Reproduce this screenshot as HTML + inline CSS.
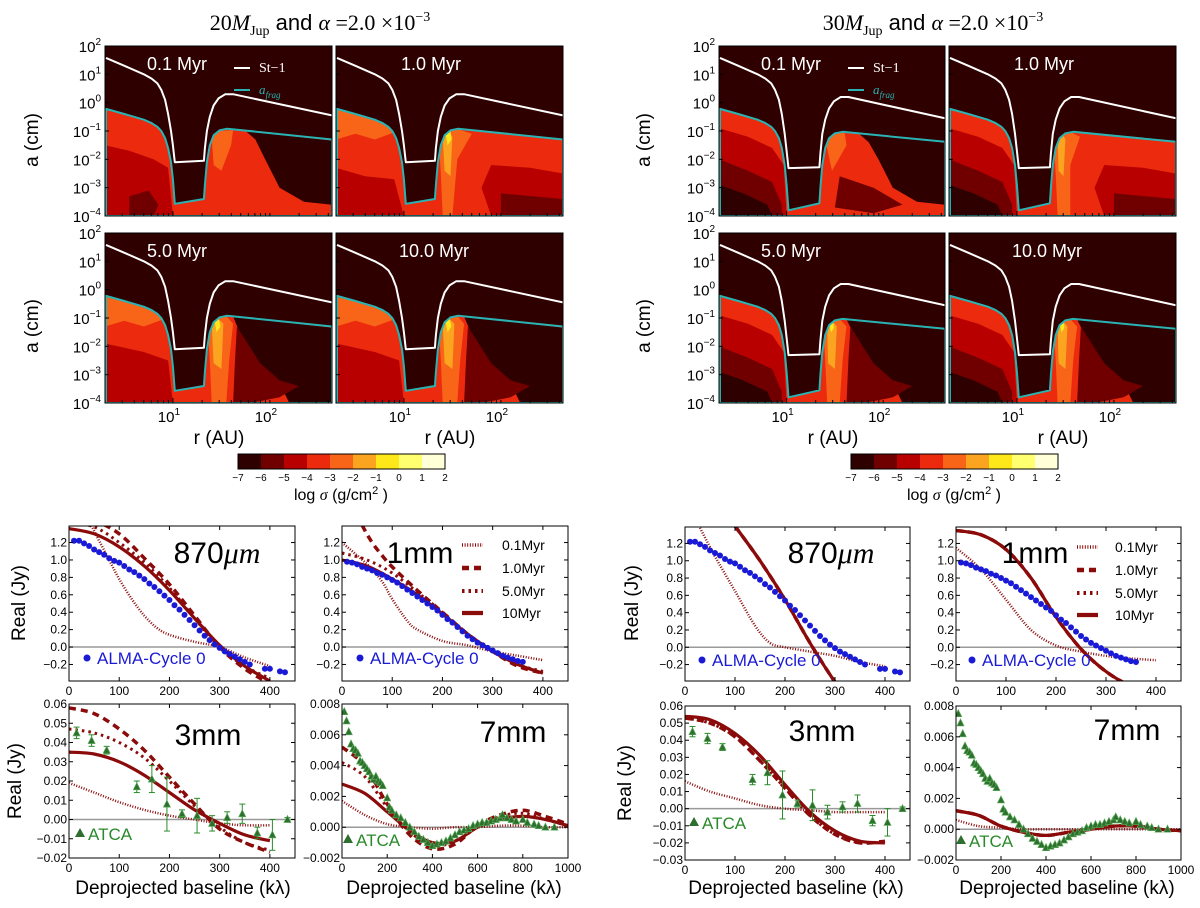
<!DOCTYPE html>
<html><head><meta charset="utf-8">
<style>
html,body{margin:0;padding:0;background:#fff;}
svg{display:block;font-family:"Liberation Sans",sans-serif;}
</style></head>
<body>
<svg id="fig" width="1200" height="908" viewBox="0 0 1200 908" xmlns="http://www.w3.org/2000/svg"></svg>
<script>
// ---------- heatmap curve data (log10 r [AU], log10 a [cm]) ----------
const stL_r=[0.31,0.50,0.70,0.78,0.84,0.88,0.92,0.95,0.98,1.00,1.02,1.32,1.33,1.35,1.38,1.42,1.47,1.54,1.62,2.64];
const stL_a=[1.58,1.30,1.00,0.85,0.68,0.45,0.10,-0.40,-1.00,-1.50,-2.10,-2.05,-1.60,-1.00,-0.50,-0.10,0.15,0.30,0.30,-0.45];
const afL_r=[0.31,0.50,0.70,0.78,0.84,0.88,0.92,0.95,0.98,1.00,1.02,1.32,1.33,1.35,1.38,1.42,1.48,1.56,2.64];
const afL_a=[-0.22,-0.40,-0.60,-0.72,-0.85,-1.00,-1.25,-1.60,-2.10,-2.70,-3.57,-3.40,-2.90,-2.10,-1.50,-1.15,-0.98,-0.92,-1.30];
const stR_r=[0.31,0.50,0.70,0.78,0.84,0.88,0.92,0.95,0.98,1.00,1.02,1.34,1.35,1.37,1.40,1.44,1.49,1.56,1.64,2.64];
const stR_a=[1.58,1.30,1.00,0.85,0.68,0.45,0.10,-0.40,-1.10,-1.70,-2.31,-2.28,-1.80,-1.10,-0.60,-0.20,0.05,0.20,0.20,-0.55];
const afR_r=[0.31,0.50,0.70,0.78,0.84,0.88,0.92,0.95,0.98,1.00,1.02,1.34,1.35,1.37,1.40,1.44,1.50,1.58,2.64];
const afR_a=[-0.22,-0.40,-0.60,-0.72,-0.85,-1.00,-1.25,-1.60,-2.20,-2.90,-3.80,-3.55,-3.00,-2.20,-1.60,-1.25,-1.08,-1.03,-1.38];
const cbLevels=[-7,-6,-5,-4,-3,-2,-1,0,1,2];
const cbColors=['#2e0000','#700000','#b80000','#ec2a0e','#f86418','#fba420','#ffe81a','#ffff70','#ffffd8'];
const timeLabels=['0.1 Myr','1.0 Myr','5.0 Myr','10.0 Myr'];

// ---------- visibility data ----------
const alma870_x=[10,20,30,40,50,60,70,80,90,100,110,120,130,140,150,160,170,180,190,200,210,220,230,240,250,260,270,280,290,300,310,320,330,340,350,360,390,400,420,430];
const alma870_y=[1.22,1.22,1.19,1.16,1.12,1.09,1.06,1.02,0.99,0.97,0.93,0.89,0.86,0.82,0.78,0.73,0.69,0.64,0.59,0.54,0.48,0.43,0.37,0.31,0.25,0.19,0.13,0.08,0.03,-0.01,-0.05,-0.08,-0.11,-0.14,-0.17,-0.20,-0.25,-0.25,-0.28,-0.29];
const alma1_x=[10,20,30,40,50,60,70,80,90,100,110,120,130,140,150,160,170,180,190,200,210,220,230,240,250,260,270,280,290,300,310,320,330,340,350,360];
const alma1_y=[0.98,0.97,0.95,0.92,0.90,0.88,0.85,0.83,0.80,0.77,0.74,0.70,0.66,0.62,0.58,0.54,0.50,0.46,0.42,0.37,0.32,0.28,0.23,0.18,0.13,0.09,0.05,0.02,-0.01,-0.04,-0.07,-0.10,-0.12,-0.14,-0.16,-0.17];
const atca3_x=[15,45,75,135,165,195,225,255,285,315,345,375,405,435];
const atca3_y=[0.045,0.041,0.036,0.017,0.021,0.008,0.003,0.002,-0.002,0.001,0.003,-0.007,-0.008,0.0];
const atca3_e=[0.003,0.003,0.002,0.003,0.007,0.014,0.002,0.009,0.004,0.003,0.005,0.003,0.008,0.001];
const atca7_x=[10,20,30,40,50,60,70,80,90,100,110,120,130,140,150,160,170,180,200,210,220,240,260,280,300,320,340,360,380,400,420,440,460,480,500,520,540,560,580,600,620,640,660,680,700,710,730,750,770,800,820,850,870,900,940];
const atca7_y=[0.0075,0.0069,0.0062,0.0054,0.0051,0.0050,0.0048,0.0043,0.0042,0.0040,0.0038,0.0036,0.0033,0.0031,0.0033,0.0030,0.0029,0.0027,0.0019,0.0013,0.0011,0.0008,0.0006,0.0003,0.0000,-0.0003,-0.0006,-0.0008,-0.0010,-0.0012,-0.0011,-0.0010,-0.0009,-0.0007,-0.0005,-0.0003,-0.0002,-0.0001,0.0001,0.0002,0.0003,0.0003,0.0004,0.0005,0.0006,0.0008,0.0006,0.0005,0.0004,0.0005,0.0003,0.0002,0.0001,0.0000,0.0000];
const mx=[0,50,100,150,200,250,300,350,400];
const mx7=[0,100,200,300,400,500,600,700,800,900,1000];
// left (20 MJup)
const L870_10=[1.36,1.30,1.15,0.93,0.65,0.33,0.02,-0.22,-0.39];
const L870_1=[1.48,1.45,1.30,1.02,0.72,0.36,0.00,-0.25,-0.42];
const L870_5=[1.42,1.38,1.20,0.97,0.68,0.33,0.00,-0.22,-0.36];
const L870_01x=[0,40,60,80,100,125,150,175,200,250,300,350,400];
const L870_01=[1.60,1.42,1.22,1.00,0.78,0.55,0.36,0.22,0.14,0.06,0.00,-0.12,-0.22];
const L1_10=[1.00,0.93,0.78,0.60,0.38,0.15,-0.05,-0.20,-0.30];
const L1_1x=[20,40,60,80,100,150,200,250,300,350,400];
const L1_1=[1.65,1.40,1.20,1.05,0.92,0.65,0.40,0.15,-0.05,-0.22,-0.30];
const L1_5=[1.08,1.00,0.85,0.63,0.40,0.15,-0.05,-0.20,-0.28];
const L1_01x=[0,50,80,100,130,150,200,250,300,350,400];
const L1_01=[1.20,0.95,0.75,0.55,0.30,0.20,0.07,0.02,-0.05,-0.10,-0.15];
const L3_10=[0.035,0.034,0.030,0.023,0.014,0.005,-0.002,-0.008,-0.011];
const L3_1=[0.058,0.055,0.047,0.036,0.022,0.008,-0.005,-0.012,-0.017];
const L3_5=[0.047,0.045,0.040,0.032,0.020,0.007,-0.004,-0.012,-0.016];
const L3_01=[0.019,0.014,0.009,0.005,0.002,0.000,-0.002,-0.003,-0.003];
const L7_10=[0.0028,0.0022,0.0010,-0.0002,-0.0010,-0.0009,0.0000,0.0005,0.0007,0.0005,0.0001];
const L7_1=[0.0052,0.0040,0.0015,-0.0005,-0.0014,-0.0011,0.0001,0.0008,0.0011,0.0007,0.0002];
const L7_5=[0.0042,0.0033,0.0013,-0.0003,-0.0012,-0.0009,0.0000,0.0007,0.0009,0.0005,0.0001];
const L7_01=[0.0017,0.0008,0.0002,0.0000,-0.0001,0.0000,0.0000,0.0001,0.0001,0.0000,0.0000];
// right (30 MJup)
const R870_10x=[100,150,200,250,300,330];
const R870_10=[1.40,1.00,0.55,0.05,-0.40,-0.60];
const R870_01x=[30,60,100,140,170,200,250,300,350,400];
const R870_01=[1.38,1.05,0.65,0.25,0.05,0.00,-0.05,-0.10,-0.17,-0.22];
const R1_10=[1.35,1.30,1.13,0.80,0.35,-0.02,-0.28,-0.45,-0.55];
const R1_01=[1.15,0.90,0.55,0.20,0.02,-0.05,-0.10,-0.13,-0.15];
const R3_10=[0.054,0.052,0.044,0.031,0.014,-0.002,-0.013,-0.019,-0.020];
const R3_1=[0.053,0.050,0.042,0.028,0.012,-0.004,-0.015,-0.020,-0.019];
const R3_01=[0.016,0.010,0.006,0.002,0.000,-0.001,-0.002,-0.002,-0.002];
const R7_10=[0.0012,0.0009,0.0002,-0.0002,-0.0004,-0.0002,0.0000,0.0002,0.0002,0.0000,-0.0001];
const R7_01=[0.0006,0.0002,0.0001,0.0000,0.0000,0.0000,0.0000,0.0000,0.0000,0.0000,0.0000];

const NS='http://www.w3.org/2000/svg';
const svg=document.getElementById('fig');
function mk(tag,attrs,parent){const e=document.createElementNS(NS,tag);for(const k in attrs)e.setAttribute(k,attrs[k]);(parent||svg).appendChild(e);return e;}
function txt(s,x,y,size,anchor,parent,extra){const t=mk('text',Object.assign({x:x,y:y,'font-size':size,'text-anchor':anchor||'middle',fill:'#000'},extra||{}),parent);t.textContent=s;return t;}
function smoothPath(pts){
  if(pts.length<3)return 'M'+pts.map(p=>p[0].toFixed(1)+','+p[1].toFixed(1)).join(' L');
  let d='M'+pts[0][0].toFixed(1)+','+pts[0][1].toFixed(1);
  for(let i=0;i<pts.length-1;i++){
    const p0=pts[Math.max(0,i-1)],p1=pts[i],p2=pts[i+1],p3=pts[Math.min(pts.length-1,i+2)];
    const c1x=p1[0]+(p2[0]-p0[0])/6,c1y=p1[1]+(p2[1]-p0[1])/6;
    const c2x=p2[0]-(p3[0]-p1[0])/6,c2y=p2[1]-(p3[1]-p1[1])/6;
    d+=' C'+c1x.toFixed(1)+','+c1y.toFixed(1)+' '+c2x.toFixed(1)+','+c2y.toFixed(1)+' '+p2[0].toFixed(1)+','+p2[1].toFixed(1);
  }
  return d;
}
let clipId=0;

// ---------- heatmap panels ----------
const C=cbColors;
function patchesFor(kind,t){
  const P=[];
  if(kind==='L'){
    if(t===0){
      P.push([C[2],[[0.30,-1.5],[0.55,-1.7],[0.8,-2.0],[0.95,-2.3],[1.0,-4],[0.30,-4]]]);
      P.push([C[1],[[0.55,-3.3],[0.75,-3.1],[0.85,-3.6],[0.8,-4],[0.55,-4]]]);
      P.push([C[4],[[1.40,-1.2],[1.48,-1.0],[1.62,-0.97],[1.6,-1.5],[1.5,-2.4],[1.42,-2.2]]]);
      P.push([C[0],[[1.75,-1.0],[2.64,-1.34],[2.64,-3.6],[2.35,-3.5],[2.1,-3.0],[1.95,-2.0],[1.85,-1.3]]]);
    } else if(t===1){
      P.push([C[4],[[0.30,-0.25],[0.55,-0.45],[0.8,-0.75],[0.9,-1.05],[0.7,-1.3],[0.5,-1.1],[0.30,-1.3]]]);
      P.push([C[2],[[0.30,-2.3],[0.6,-2.6],[0.9,-2.7],[1.0,-4],[0.30,-4]]]);
      P.push([C[2],[[1.9,-2.2],[2.3,-2.3],[2.64,-2.5],[2.64,-4],[1.9,-4],[1.8,-3.0]]]);
      P.push([C[1],[[2.0,-3.2],[2.64,-3.4],[2.64,-4],[2.0,-4]]]);
      P.push([C[4],[[1.36,-1.3],[1.42,-1.0],[1.55,-0.93],[1.7,-1.1],[1.55,-2.0],[1.5,-4],[1.4,-4],[1.38,-2.5]]]);
      P.push([C[5],[[1.40,-1.2],[1.46,-1.0],[1.5,-1.2],[1.48,-2.6],[1.42,-2.4]]]);
      P.push([C[6],[[1.43,-1.1],[1.48,-1.0],[1.49,-1.3],[1.45,-1.5]]]);
    } else {
      P.push([C[4],[[0.30,-0.25],[0.55,-0.45],[0.8,-0.75],[0.9,-1.05],[0.7,-1.3],[0.5,-1.1],[0.30,-1.3]]]);
      P.push([C[2],[[0.30,-1.9],[0.7,-2.2],[0.95,-2.5],[1.0,-4],[0.30,-4]]]);
      P.push([C[0],[[1.62,-0.95],[2.64,-1.34],[2.64,-4],[2.2,-4],[2.1,-3.3],[1.9,-2.8],[1.7,-1.6]]]);
      P.push([C[1],[[1.66,-1.3],[1.9,-2.6],[2.1,-3.2],[2.3,-3.4],[2.1,-3.8],[1.8,-4],[1.62,-4],[1.64,-2.5]]]);
      P.push([C[4],[[1.36,-1.3],[1.42,-1.0],[1.55,-0.93],[1.62,-1.2],[1.58,-2.5],[1.55,-4],[1.4,-4],[1.38,-2.5]]]);
      P.push([C[5],[[1.40,-1.2],[1.46,-1.0],[1.52,-1.2],[1.5,-2.8],[1.42,-2.6]]]);
      P.push([C[6],[[1.43,-1.1],[1.47,-1.0],[1.49,-1.3],[1.45,-1.5]]]);
    }
  } else {
    P.push([C[2],[[0.30,-0.9],[0.6,-1.2],[0.85,-1.6],[0.97,-2.2],[1.0,-4],[0.30,-4]]]);
    P.push([C[1],[[0.30,-2.0],[0.6,-2.4],[0.85,-2.8],[0.95,-3.6],[0.95,-4],[0.30,-4]]]);
    P.push([C[0],[[0.30,-2.9],[0.55,-3.2],[0.8,-3.6],[0.85,-4],[0.30,-4]]]);
    if(t===0){
      P.push([C[4],[[1.40,-1.3],[1.47,-1.1],[1.6,-1.05],[1.62,-1.5],[1.47,-2.4]]]);
      P.push([C[0],[[1.75,-1.1],[2.64,-1.38],[2.64,-3.6],[2.35,-3.5],[2.1,-3.0],[1.95,-2.0],[1.85,-1.4]]]);
      P.push([C[1],[[1.55,-2.6],[1.9,-3.0],[2.2,-3.6],[1.9,-3.9],[1.5,-3.7]]]);
    } else if(t===1){
      P.push([C[2],[[1.9,-2.2],[2.3,-2.3],[2.64,-2.5],[2.64,-4],[1.9,-4],[1.8,-3.0]]]);
      P.push([C[1],[[2.0,-3.2],[2.64,-3.4],[2.64,-4],[2.0,-4]]]);
      P.push([C[4],[[1.38,-1.3],[1.44,-1.1],[1.55,-1.04],[1.65,-1.2],[1.55,-2.2],[1.55,-4],[1.42,-4],[1.40,-2.5]]]);
      P.push([C[5],[[1.42,-1.3],[1.47,-1.1],[1.5,-1.3],[1.48,-2.6],[1.43,-2.4]]]);
    } else {
      P.push([C[0],[[1.62,-1.05],[2.64,-1.38],[2.64,-4],[2.2,-4],[2.1,-3.3],[1.9,-2.8],[1.7,-1.6]]]);
      P.push([C[1],[[1.66,-1.3],[1.9,-2.6],[2.1,-3.2],[2.3,-3.4],[2.1,-3.8],[1.8,-4],[1.62,-4],[1.64,-2.5]]]);
      P.push([C[4],[[1.38,-1.3],[1.44,-1.1],[1.55,-1.04],[1.62,-1.3],[1.58,-2.5],[1.55,-4],[1.42,-4],[1.40,-2.5]]]);
      P.push([C[5],[[1.42,-1.3],[1.47,-1.1],[1.52,-1.3],[1.5,-2.8],[1.43,-2.6]]]);
      P.push([C[6],[[1.44,-1.2],[1.48,-1.1],[1.49,-1.35],[1.46,-1.5]]]);
    }
  }
  return P;
}
const RMIN=0.30,RMAX=2.64,AMIN=-4,AMAX=2;
function heatPanel(p,kind,t,showY,showX){
  const g=mk('g',{});
  
  
  const hx=v=>p.x+(v-RMIN)/(RMAX-RMIN)*p.w;
  const hy=v=>p.y+(AMAX-v)/(AMAX-AMIN)*p.h;
  const id='hc'+(clipId++);
  const cp=mk('clipPath',{id:id},g);mk('rect',{x:p.x,y:p.y,width:p.w,height:p.h},cp);
  const inner=mk('g',{'clip-path':'url(#'+id+')'},g);
  mk('rect',{x:p.x,y:p.y,width:p.w,height:p.h,fill:C[0]},inner);
  const sr=kind==='L'?stL_r:stR_r, sa=kind==='L'?stL_a:stR_a;
  const fr=kind==='L'?afL_r:afR_r, fa=kind==='L'?afL_a:afR_a;
  let d='M'+hx(fr[0])+','+hy(AMIN);
  for(let i=0;i<fr.length;i++)d+=' L'+hx(fr[i]).toFixed(1)+','+hy(fa[i]).toFixed(1);
  d+=' L'+hx(fr[fr.length-1])+','+hy(AMIN)+' Z';
  const base=mk('path',{d:d,fill:C[3]},inner);
  
  
  const clip2='hd'+(clipId++);
  const cp2=mk('clipPath',{id:clip2},g);mk('path',{d:d},cp2);
  const pg=mk('g',{'clip-path':'url(#'+clip2+')'},inner);
  patchesFor(kind,t).forEach(pt=>{
    const poly=mk('polygon',{points:pt[1].map(q=>hx(q[0]).toFixed(1)+','+hy(q[1]).toFixed(1)).join(' '),fill:pt[0]},pg);
    
    
  });
  const wl=mk('polyline',{points:sr.map((v,i)=>hx(v).toFixed(1)+','+hy(sa[i]).toFixed(1)).join(' '),fill:'none',stroke:'#fff','stroke-width':2,'stroke-linejoin':'round'},inner);
  
  
  const cl=mk('path',{d:d,fill:'none',stroke:'#2ab3b3','stroke-width':2,'stroke-linejoin':'round'},inner);
  
  
  mk('rect',{x:p.x,y:p.y,width:p.w,height:p.h,fill:'none',stroke:'#000','stroke-width':1},g);
  for(let e=1;e<=2;e++){ for(let m=1;m<10;m++){const lv=e-1+Math.log10(m); if(lv<RMIN||lv>RMAX)continue; const X=hx(lv);const L=(m===1)?5:3;
    mk('line',{x1:X,y1:p.y+p.h,x2:X,y2:p.y+p.h-L,stroke:'#000','stroke-width':1},g);}}
  for(let m=1;m<10;m++){const lv=2+Math.log10(m);if(lv>RMAX)break;mk('line',{x1:hx(lv),y1:p.y+p.h,x2:hx(lv),y2:p.y+p.h-3,stroke:'#000'},g);}
  for(let a=AMIN;a<=AMAX;a++){mk('line',{x1:p.x,y1:hy(a),x2:p.x+4,y2:hy(a),stroke:'#000'},g);
    if(showY){const tt=txt('',p.x-4,hy(a)+6,15,'end',g);tt.textContent='10';const ts=mk('tspan',{dy:-7,'font-size':10},tt);ts.textContent=String(a).replace('-','\u2212');
      }}
  if(showX){[1,2].forEach(e=>{const tt=txt('',hx(e)-4,p.y+p.h+19,15,'middle',g);tt.textContent='10';const ts=mk('tspan',{dy:-7,'font-size':10},tt);ts.textContent=String(e);
    });}
  const tl=txt(timeLabels[t],p.x+(t===3?98:t===1?95:72),p.y+24,18,'middle',g,{fill:'#fff'});
  
  if(t===0){
    mk('line',{x1:p.x+129,y1:p.y+22,x2:p.x+145,y2:p.y+22,stroke:'#fff','stroke-width':2},g);
    const s1=txt('St\u22121',p.x+154,p.y+26,14,'start',g,{fill:'#fff','font-family':'Liberation Serif,serif'});
    
    mk('line',{x1:p.x+129,y1:p.y+44,x2:p.x+145,y2:p.y+44,stroke:'#2ab3b3','stroke-width':2},g);
    const s2=txt('',p.x+154,p.y+48,13,'start',g,{fill:'#2ab3b3','font-family':'Liberation Serif,serif','font-style':'italic'});
    s2.textContent='a';const sb=mk('tspan',{dy:4,'font-size':9},s2);sb.textContent='frag';
    
  }
}
function heatBlock(kind,x0,x1,x2,titleX,title,cbx,ylabX,rlab1,rlab2){
  const w1=x1-x0, w2=x2-(x1+4);
  heatPanel({x:x0,y:46,w:w1,h:170},kind,0,true,false);
  heatPanel({x:x1+4,y:46,w:w2,h:170},kind,1,false,false);
  heatPanel({x:x0,y:233,w:w1,h:170},kind,2,true,true);
  heatPanel({x:x1+4,y:233,w:w2,h:170},kind,3,false,true);
  const tt=mk('text',{x:titleX,y:30,'font-size':22,'text-anchor':'middle','font-family':'Liberation Serif,serif'});
  
  let s=mk('tspan',{},tt);s.textContent=title;
  s=mk('tspan',{'font-style':'italic'},tt);s.textContent='M';
  s=mk('tspan',{dy:5,'font-size':14},tt);s.textContent='Jup';
  s=mk('tspan',{dy:-5,'font-family':'Liberation Sans,sans-serif'},tt);s.textContent=' and ';
  s=mk('tspan',{'font-style':'italic'},tt);s.textContent='\u03b1';
  s=mk('tspan',{},tt);s.textContent=' =2.0 \u00d710';
  s=mk('tspan',{dy:-9,'font-size':14},tt);s.textContent='\u22123';
  [140,326].forEach(yc=>{const a=txt('a (cm)',ylabX,yc,19,'middle',svg,{transform:'rotate(-90 '+ylabX+' '+yc+')'});
    });
  [rlab1,rlab2].forEach(xc=>{const a=txt('r (AU)',xc,444,19);});
  const cw=207/9;
  const cg=mk('g',{});
  cbColors.forEach((c,i)=>mk('rect',{x:cbx+i*cw,y:454,width:cw+0.5,height:15,fill:c},cg));
  mk('rect',{x:cbx,y:454,width:207,height:15,fill:'none',stroke:'#000'},cg);
  cbLevels.forEach((v,i)=>{txt(String(v).replace('-','\u2212'),cbx+i*cw,481,10,'middle',cg);});
  const lt=txt('',cbx+103,500,16,'middle',cg);
  lt.textContent='log ';let q=mk('tspan',{'font-style':'italic','font-family':'Liberation Serif,serif'},lt);q.textContent='\u03c3';
  q=mk('tspan',{},lt);q.textContent=' (g/cm';q=mk('tspan',{dy:-6,'font-size':11},lt);q.textContent='2';q=mk('tspan',{dy:6},lt);q.textContent=' )';
}
heatBlock('L',105,332,563,320,'20',238,38,219,450);
heatBlock('R',719,945,1176,933,'30',851,650,833,1063);

// ---------- line charts ----------
const RED='#8b0a0a';
const styles={s10:{w:3.2,dash:null},s1:{w:3.5,dash:'7,5'},s5:{w:3,dash:'2.5,4'},s01:{w:2.5,dash:'1,1.6'}};
function lineChart(p,xr,yr,xt,yt,yfmt,name){
  const g=mk('g',{});
  const sx=v=>p.x+(v-xr[0])/(xr[1]-xr[0])*p.w;
  const sy=v=>p.y+(yr[1]-v)/(yr[1]-yr[0])*p.h;
  const id='lc'+(clipId++);const cp=mk('clipPath',{id:id},g);mk('rect',{x:p.x,y:p.y,width:p.w,height:p.h},cp);
  const inner=mk('g',{'clip-path':'url(#'+id+')'},g);
  mk('line',{x1:p.x,x2:p.x+p.w,y1:sy(0),y2:sy(0),stroke:'#999','stroke-width':1.5},inner);
  mk('rect',{x:p.x,y:p.y,width:p.w,height:p.h,fill:'none',stroke:'#000'},g);
  xt.forEach(v=>{const X=sx(v);mk('line',{x1:X,x2:X,y1:p.y+p.h,y2:p.y+p.h-4,stroke:'#000'},g);mk('line',{x1:X,x2:X,y1:p.y,y2:p.y+4,stroke:'#000'},g);
    const t=txt(String(v),X,p.y+p.h+14,12,'middle',g);});
  yt.forEach(v=>{const Y=sy(v);mk('line',{x1:p.x,x2:p.x+4,y1:Y,y2:Y,stroke:'#000'},g);mk('line',{x1:p.x+p.w,x2:p.x+p.w-4,y1:Y,y2:Y,stroke:'#000'},g);
    const t=txt(yfmt(v),p.x-2,Y+4,12,'end',g);});
  return {g:g,inner:inner,sx:sx,sy:sy};
}
function series(ch,xs,ys,st,name){
  const s=styles[st];
  const a={d:smoothPath(xs.map((v,i)=>[ch.sx(v),ch.sy(ys[i])])),fill:'none',stroke:RED,'stroke-width':s.w};
  if(s.dash)a['stroke-dasharray']=s.dash;
  const l=mk('path',a,ch.inner);
}
function alma(ch,xs,ys){xs.forEach((v,i)=>{const c=mk('circle',{cx:ch.sx(v),cy:ch.sy(ys[i]),r:3,fill:'#1a1ad6'},ch.inner);
  });}
function atca(ch,xs,ys,es){xs.forEach((v,i)=>{const X=ch.sx(v),Y=ch.sy(ys[i]);
  if(es){const t=ch.sy(ys[i]+es[i]),b=ch.sy(ys[i]-es[i]);mk('line',{x1:X,x2:X,y1:t,y2:b,stroke:'#2a8a2a'},ch.inner);
    mk('line',{x1:X-3,x2:X+3,y1:t,y2:t,stroke:'#2a8a2a'},ch.inner);mk('line',{x1:X-3,x2:X+3,y1:b,y2:b,stroke:'#2a8a2a'},ch.inner);}
  const tr=mk('polygon',{points:(X)+','+(Y-4)+' '+(X-3.5)+','+(Y+3)+' '+(X+3.5)+','+(Y+3),fill:'#2e6e2e',stroke:'#55a855','stroke-width':0.7},ch.inner);
  });}
const f1=v=>(v<0?'\u2212':'')+Math.abs(v).toFixed(1);
const f2=v=>(v<0?'\u2212':'')+Math.abs(v).toFixed(2);
const f3=v=>(v<0?'\u2212':'')+Math.abs(v).toFixed(3);
const T01=[-0.2,0,0.2,0.4,0.6,0.8,1.0,1.2];
const TX=[0,100,200,300,400], TX7=[0,200,400,600,800,1000];
const T7=[-0.002,0,0.002,0.004,0.006,0.008];
function label(s,x,y,size,name,extra){const t=txt(s,x,y,size,'middle',svg,extra);return t;}
function almaLeg(x,y){const c=mk('circle',{cx:x,cy:y-6,r:3.5,fill:'#1a1ad6'});
  const t=txt('ALMA-Cycle 0',x+10,y,17,'start',svg,{fill:'#1a1ad6'});}
function atcaLeg(x,y){const p=mk('polygon',{points:x+','+(y-12)+' '+(x-5)+','+(y-3)+' '+(x+5)+','+(y-3),fill:'#2e6e2e'});
  const t=txt('ATCA',x+8,y,17,'start',svg,{fill:'#2a8a2a'});}
function legend(x1,xt,ys){const names=['0.1Myr','1.0Myr','5.0Myr','10Myr'],st=['s01','s1','s5','s10'];
  names.forEach((n,i)=>{const s=styles[st[i]];const a={x1:x1,x2:x1+21,y1:ys[i],y2:ys[i],stroke:RED,'stroke-width':s.w+1};if(s.dash)a['stroke-dasharray']=s.dash;
    const l=mk('line',a);
    const t=txt(n,xt,ys[i]+5,14,'start');});}
function wlTitle(s,x,y,italic){const t=txt('',x,y,30,'middle');
  if(italic){t.textContent='870';const q=mk('tspan',{'font-style':'italic','font-family':'Liberation Serif,serif'},t);q.textContent='\u03bcm';}else t.textContent=s;}

// LEFT set
let ch=lineChart({x:69,y:526,w:226,h:155},[0,450],[-0.39,1.39],TX,T01,f1,'chart-870um-20mjup');
series(ch,L870_01x,L870_01,'s01','model-0.1myr');series(ch,mx,L870_1,'s1','model-1.0myr');series(ch,mx,L870_5,'s5','model-5.0myr');series(ch,mx,L870_10,'s10','model-10myr');alma(ch,alma870_x,alma870_y);
wlTitle('',217,563,true);almaLeg(87,664);
ch=lineChart({x:342,y:526,w:226,h:155},[0,450],[-0.39,1.39],TX,T01,f1,'chart-1mm-20mjup');
series(ch,L1_01x,L1_01,'s01','model-0.1myr');series(ch,L1_1x,L1_1,'s1','model-1.0myr');series(ch,mx,L1_5,'s5','model-5.0myr');series(ch,mx,L1_10,'s10','model-10myr');alma(ch,alma1_x,alma1_y);
wlTitle('1mm',420,563);almaLeg(360,664);legend(462,502,[545,568,591,613]);
ch=lineChart({x:69,y:704,w:226,h:154},[0,450],[-0.02,0.06],TX,[-0.02,-0.01,0,0.01,0.02,0.03,0.04,0.05,0.06],f2,'chart-3mm-20mjup');
series(ch,mx,L3_01,'s01','model-0.1myr');series(ch,mx,L3_1,'s1','model-1.0myr');series(ch,mx,L3_5,'s5','model-5.0myr');series(ch,mx,L3_10,'s10','model-10myr');atca(ch,atca3_x,atca3_y,atca3_e);
wlTitle('3mm',208,745);atcaLeg(80,840);
ch=lineChart({x:342,y:704,w:226,h:154},[0,1000],[-0.002,0.008],TX7,T7,f3,'chart-7mm-20mjup');
series(ch,mx7,L7_01,'s01','model-0.1myr');series(ch,mx7,L7_1,'s1','model-1.0myr');series(ch,mx7,L7_5,'s5','model-5.0myr');series(ch,mx7,L7_10,'s10','model-10myr');atca(ch,atca7_x,atca7_y,null);
wlTitle('7mm',513,742);atcaLeg(348,846);
label('Real (Jy)',25,603,19,'y-axis-title',{transform:'rotate(-90 25 603)'});
label('Real (Jy)',21,781,19,'y-axis-title',{transform:'rotate(-90 21 781)'});
label('Deprojected baseline (k\u03bb)',183,894,19,'x-axis-title');
label('Deprojected baseline (k\u03bb)',454,894,19,'x-axis-title');

// RIGHT set
ch=lineChart({x:685,y:527,w:225,h:154},[0,450],[-0.39,1.39],TX,T01,f1,'chart-870um-30mjup');
series(ch,R870_01x,R870_01,'s01','model-0.1myr');series(ch,R870_10x,R870_10,'s1','model-1.0myr');series(ch,R870_10x,R870_10,'s5','model-5.0myr');series(ch,R870_10x,R870_10,'s10','model-10myr');alma(ch,alma870_x,alma870_y);
wlTitle('',831,563,true);almaLeg(702,666);
ch=lineChart({x:956,y:527,w:225,h:154},[0,450],[-0.39,1.39],TX,T01,f1,'chart-1mm-30mjup');
series(ch,mx,R1_01,'s01','model-0.1myr');series(ch,mx,R1_10,'s1','model-1.0myr');series(ch,mx,R1_10,'s5','model-5.0myr');series(ch,mx,R1_10,'s10','model-10myr');alma(ch,alma1_x,alma1_y);
wlTitle('1mm',1035,563);almaLeg(972,666);legend(1077,1115,[547,570,593,615]);
ch=lineChart({x:685,y:706,w:225,h:154},[0,450],[-0.03,0.06],TX,[-0.03,-0.02,-0.01,0,0.01,0.02,0.03,0.04,0.05,0.06],f2,'chart-3mm-30mjup');
series(ch,mx,R3_01,'s01','model-0.1myr');series(ch,mx,R3_1,'s1','model-1.0myr');series(ch,mx,R3_1,'s5','model-5.0myr');series(ch,mx,R3_10,'s10','model-10myr');atca(ch,atca3_x,atca3_y,atca3_e);
wlTitle('3mm',822,741);atcaLeg(694,829);
ch=lineChart({x:956,y:706,w:225,h:154},[0,1000],[-0.002,0.008],TX7,T7,f3,'chart-7mm-30mjup');
series(ch,mx7,R7_01,'s01','model-0.1myr');series(ch,mx7,R7_10,'s1','model-1.0myr');series(ch,mx7,R7_10,'s5','model-5.0myr');series(ch,mx7,R7_10,'s10','model-10myr');atca(ch,atca7_x,atca7_y,null);
wlTitle('7mm',1127,740);atcaLeg(961,847);
label('Real (Jy)',638,603,19,'y-axis-title',{transform:'rotate(-90 638 603)'});
label('Real (Jy)',631,783,19,'y-axis-title',{transform:'rotate(-90 631 783)'});
label('Deprojected baseline (k\u03bb)',796,894,19,'x-axis-title');
label('Deprojected baseline (k\u03bb)',1067,894,19,'x-axis-title');
</script>
</body></html>
